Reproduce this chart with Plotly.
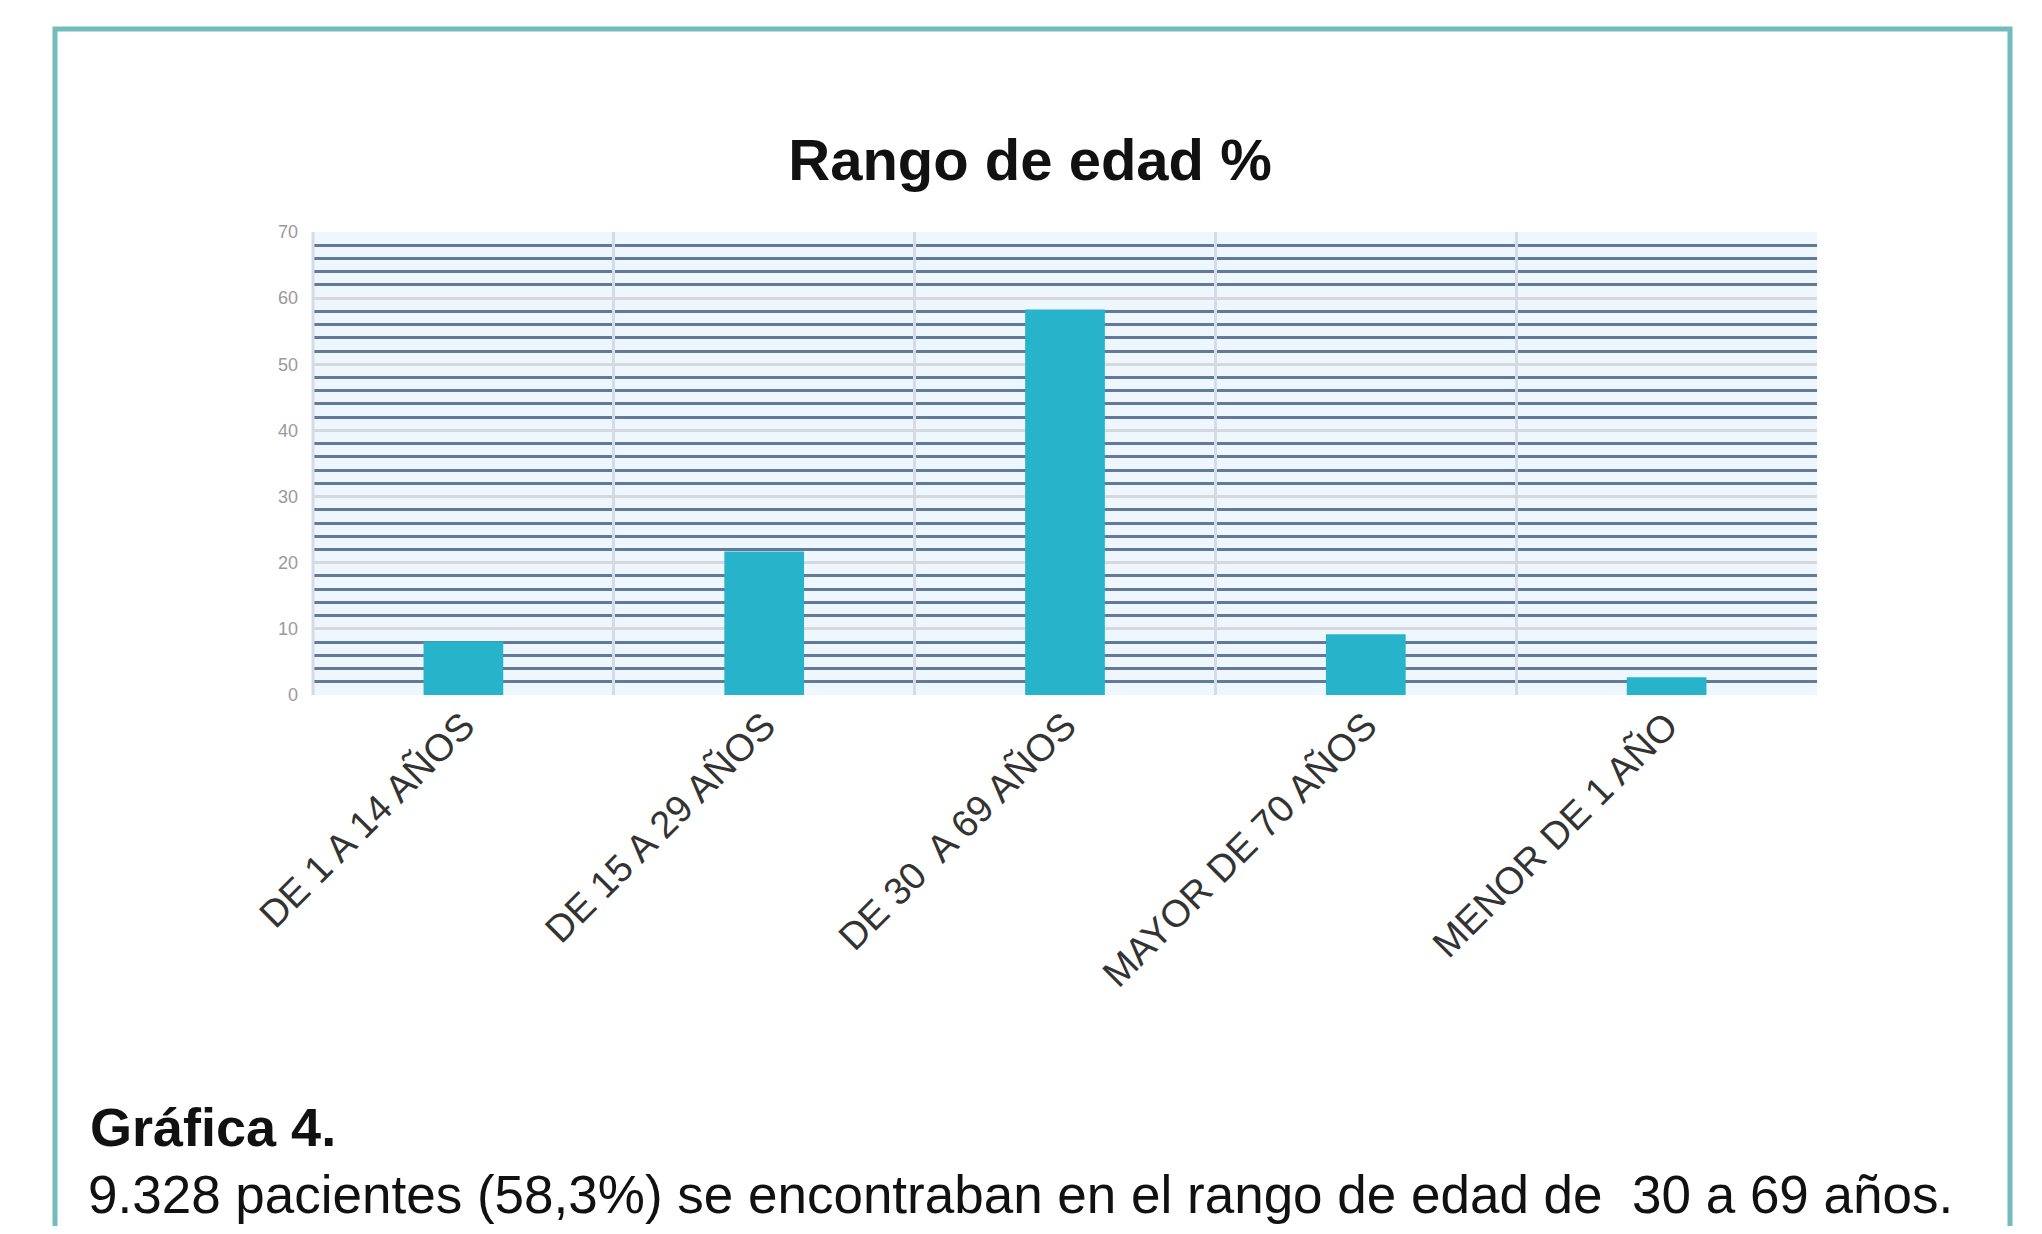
import plotly.graph_objects as go

# data
categories = ["DE 1 A 14 AÑOS", "DE 15 A 29 AÑOS", "DE 30  A 69 AÑOS",
              "MAYOR DE 70 AÑOS", "MENOR DE 1 AÑO"]
percent = [8.1, 21.7, 58.3, 9.2, 2.7]
y_ticks = [0, 10, 20, 30, 40, 50, 60, 70]

title_text = "<b>Rango de edad %</b>"
caption_head = "<b>Gráfica 4.</b>"
caption_body = "9.328 pacientes (58,3%) se encontraban en el rango de edad de  30 a 69 años."

# page body has an 8px margin, so the figure is a bit smaller than the window
OFF = 8
W, H = 2026, 1218
L, T = 305, 224
PW, PH = 1504, 463
R, B = W - L - PW, H - T - PH


def px_x(x):
    return (x - OFF - L) / PW


def px_y(y):
    return (OFF + T + PH - y) / PH


FONT = "Liberation Sans, Arial, sans-serif"

fig = go.Figure()
fig.add_trace(go.Bar(
    x=categories, y=percent,
    marker=dict(color="#27b4ca", line=dict(width=0)),
    width=0.265,
    hoverinfo="x+y",
))

fig.update_layout(
    width=W, height=H,
    margin=dict(l=L, r=R, t=T, b=B, autoexpand=False),
    paper_bgcolor="white",
    plot_bgcolor="#eef7fd",
    font=dict(family=FONT, color="#333333"),
    showlegend=False,
    title=dict(text=title_text, font=dict(size=58, color="#111111", family=FONT),
               xref="paper", x=px_x(1030), xanchor="center",
               yref="container", y=1 - 152 / H, yanchor="middle"),
)

fig.update_xaxes(
    type="category",
    tickson="boundaries",
    showgrid=True, gridcolor="#d3dae8", gridwidth=3,
    ticks="", tickangle=-45,
    tickfont=dict(size=38, color="#333333", family=FONT),
    showline=False, zeroline=False,
)
fig.update_yaxes(
    range=[0, 70], tickvals=y_ticks,
    showgrid=True, gridcolor="#d6d8dc", gridwidth=3,
    minor=dict(dtick=2, showgrid=True, gridcolor="#62799a", gridwidth=3),
    zeroline=False, showline=False,
    tickfont=dict(size=18, color="#9a9a9a", family=FONT),
    ticks="", ticklabelstandoff=14,
)

# left edge of the plot frame
fig.add_shape(type="line", xref="paper", yref="paper",
              x0=0, x1=0, y0=0, y1=1, line=dict(color="#d3dae8", width=3))

# outer frame of the figure box
fig.add_shape(type="rect", xref="paper", yref="paper", layer="below",
              x0=px_x(55), x1=px_x(2010), y0=px_y(1300), y1=px_y(29),
              line=dict(color="#72bcbc", width=5), fillcolor="rgba(0,0,0,0)")

# caption under the chart
fig.add_annotation(text=caption_head, xref="paper", yref="paper",
                   x=px_x(88), y=px_y(1127), xanchor="left", yanchor="middle",
                   showarrow=False, font=dict(size=54, color="#111111", family=FONT))
fig.add_annotation(text=caption_body, xref="paper", yref="paper",
                   x=px_x(86), y=px_y(1194), xanchor="left", yanchor="middle",
                   showarrow=False, font=dict(size=53, color="#111111", family=FONT))

fig.write_html("out.html")
